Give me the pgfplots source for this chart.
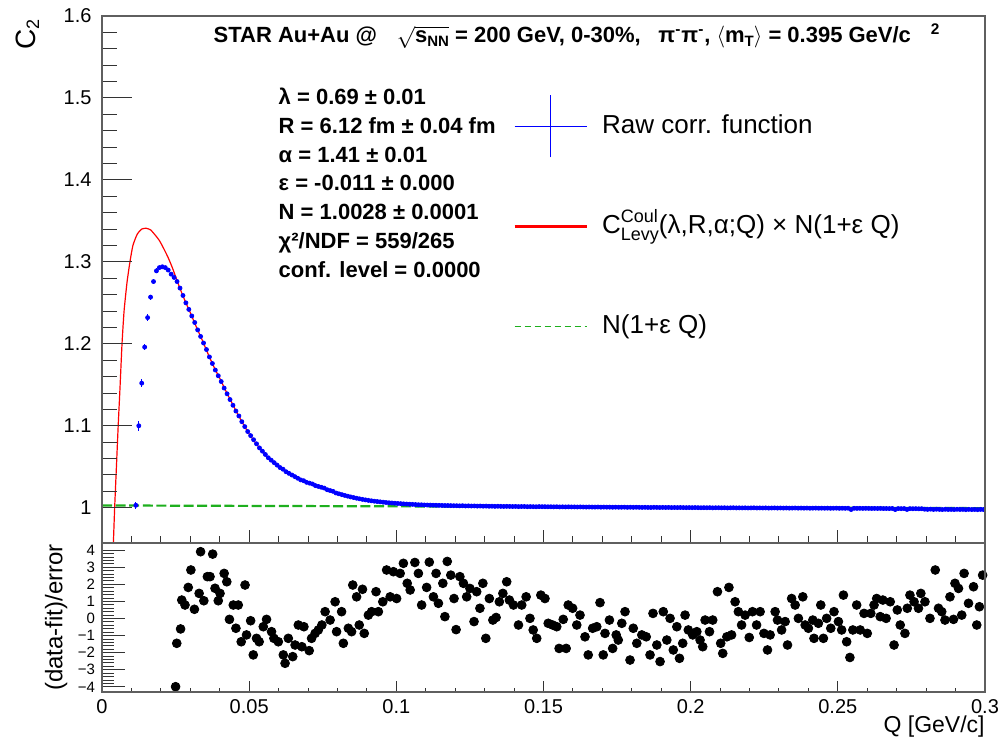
\documentclass[border=0pt]{standalone}
\usepackage{fontspec}
\setmainfont{Liberation Sans}
\usepackage{pgfplots}
\pgfplotsset{compat=1.18}
\definecolor{rootblue}{RGB}{0,0,255}
\definecolor{rootred}{RGB}{255,0,0}
\definecolor{rootgreen}{RGB}{30,175,30}
\definecolor{framegray}{RGB}{95,95,95}

\pgfplotsset{
  panel/.style={scale only axis, width=441.5pt, anchor=south west, xmin=0, xmax=0.3,
    axis line style={framegray, line width=0.7pt}, tick align=inside,
    every tick/.style={black!80, line width=0.5pt},
    xtick pos=left, ytick pos=left,
    /pgf/number format/assume math mode=true},
  toppanel/.style={panel, at={(51pt,97.5pt)}, height=263.5pt, ymin=0.957, ymax=1.6},
  botpanel/.style={panel, at={(51pt,23pt)}, height=74.5pt, ymin=-4.3, ymax=4.42},
  qticks/.style={xtick={0,0.05,0.1,0.15,0.2,0.25,0.3}, minor x tick num=4},
}
\newcommand{\lowsub}[1]{\raisebox{-2pt}{\fontsize{7.5}{7.5}\selectfont #1}}

\begin{document}
\begin{tikzpicture}
\useasboundingbox (0,0) rectangle (499pt,369pt);

% ---- top panel: correlation function, fit, baseline
\begin{axis}[toppanel, qticks, xticklabels={}, ytick=\empty,
  major tick length=6.7pt, minor tick length=3.3pt,
  legend cell align=left,
  legend style={at={(0.465,0.8197)}, anchor=north west, draw=none, fill=none,
    font=\fontsize{13}{15}\selectfont, row sep=35pt, inner sep=0pt,
    nodes={inner sep=1pt, text height=10pt, text depth=3pt},
    /tikz/every odd column/.append style={column sep=6pt}}]

% N(1+eps Q)
\addplot[rootgreen, line width=1.1pt, dash pattern=on 5pt off 1.8pt, forget plot]
  coordinates {(0,1.0028) (0.3,0.9995)};

% Levy fit with Coulomb
\addplot[rootred, line width=0.6pt, smooth, tension=0.35, forget plot] coordinates {
 (0.0038,0.950) (0.0043,1.000) (0.0049,1.050) (0.0055,1.100) (0.0061,1.145)
 (0.0068,1.200) (0.0075,1.240) (0.0085,1.275) (0.0095,1.300) (0.0105,1.320)
 (0.0120,1.334) (0.0135,1.340) (0.0150,1.341) (0.0165,1.339) (0.0180,1.333)
 (0.0195,1.326) (0.0210,1.316) (0.0225,1.305) (0.0240,1.292) (0.0255,1.277)
 (0.0270,1.263) (0.0285,1.250) (0.0300,1.238) (0.0320,1.221) (0.0340,1.205)
 (0.0360,1.188) (0.0380,1.172) (0.0400,1.158) (0.0420,1.143) (0.0440,1.129)
 (0.0460,1.115) (0.0480,1.102) (0.0500,1.090) (0.0520,1.080) (0.0540,1.071)
 (0.0560,1.063) (0.0580,1.057) (0.0600,1.051) (0.0620,1.046) (0.0650,1.040)
 (0.0680,1.034) (0.0710,1.030) (0.0740,1.026) (0.0770,1.022) (0.0800,1.017)
 (0.0840,1.013) (0.0880,1.010) (0.0920,1.008) (0.0960,1.0062) (0.1000,1.0051)
 (0.1050,1.0040) (0.1100,1.0032) (0.1200,1.0024) (0.1400,1.0015) (0.1600,1.0010)
 (0.1800,1.0005) (0.2000,1.0001) (0.2200,0.9998) (0.2400,0.9995) (0.2600,0.9992)
 (0.2750,0.9988) (0.2850,0.9981) (0.3000,0.9977)};

% raw correlation function, low Q with visible errors
\addplot[rootblue, only marks, mark=*, mark size=1pt, forget plot,
  error bars/.cd, y dir=both, y explicit, error mark=none,
  error bar style={rootblue, line width=0.4pt}] coordinates {
 (0.0115,1.003) +- (0,0.004) (0.0125,1.100) +- (0,0.006) (0.0135,1.152) +- (0,0.005)
 (0.0145,1.196) +- (0,0.004) (0.0155,1.232) +- (0,0.004) (0.0165,1.257) +- (0,0.003)
 (0.0175,1.276) +- (0,0.003) (0.0185,1.289) +- (0,0.003) (0.0195,1.293) +- (0,0.002)
 (0.0205,1.294) +- (0,0.002) (0.0215,1.293) +- (0,0.002) (0.0225,1.290) +- (0,0.002)
 (0.0235,1.285) +- (0,0.002) (0.0245,1.281) +- (0,0.002)};

\addplot[rootblue, only marks, mark=*, mark size=1pt, forget plot] coordinates {
 (0.0255,1.276) (0.0265,1.268) (0.0275,1.259) (0.0285,1.250) (0.0295,1.242)
 (0.0305,1.234) (0.0315,1.226) (0.0325,1.217) (0.0335,1.209) (0.0345,1.201)
 (0.0355,1.193) (0.0365,1.184) (0.0375,1.176) (0.0385,1.168) (0.0395,1.161)
 (0.0405,1.154) (0.0415,1.146) (0.0425,1.139) (0.0435,1.132) (0.0445,1.125)
 (0.0455,1.118) (0.0465,1.112) (0.0475,1.105) (0.0485,1.099) (0.0495,1.093)
 (0.0505,1.088) (0.0515,1.083) (0.0525,1.078) (0.0535,1.073) (0.0545,1.069)
 (0.0555,1.065) (0.0565,1.061) (0.0575,1.058) (0.0585,1.055) (0.0595,1.052)
 (0.0605,1.049) (0.0615,1.047) (0.0625,1.044) (0.0635,1.042) (0.0645,1.040)
 (0.0655,1.038) (0.0665,1.036) (0.0675,1.034) (0.0685,1.033) (0.0695,1.031)
 (0.0705,1.030) (0.0715,1.029) (0.0725,1.027) (0.0735,1.026) (0.0745,1.025)
 (0.0755,1.024) (0.0765,1.022) (0.0775,1.021) (0.0785,1.020) (0.0795,1.018)
 (0.0805,1.0170) (0.0815,1.0160) (0.0825,1.0150) (0.0835,1.0141) (0.0845,1.0132)
 (0.0855,1.0124) (0.0865,1.0116) (0.0875,1.0109) (0.0885,1.0102) (0.0895,1.0096)
 (0.0905,1.0090) (0.0915,1.0085) (0.0925,1.0080) (0.0935,1.0076) (0.0945,1.0072)
 (0.0955,1.0068) (0.0965,1.0064) (0.0975,1.0061) (0.0985,1.0058) (0.0995,1.0055)
 (0.1005,1.0052) (0.1015,1.0050) (0.1025,1.0047) (0.1035,1.0045) (0.1045,1.0043)
 (0.1055,1.0041) (0.1065,1.0039) (0.1075,1.0037) (0.1085,1.0036) (0.1095,1.0034)
 (0.1105,1.0033) (0.1115,1.0032) (0.1125,1.0031) (0.1135,1.0030) (0.1145,1.0029)
 (0.1155,1.0028) (0.1165,1.0027) (0.1175,1.0027) (0.1185,1.0026) (0.1195,1.0025)
 (0.1205,1.0025) (0.1215,1.0023) (0.1225,1.0025) (0.1235,1.0022) (0.1245,1.0023)
 (0.1255,1.0021) (0.1265,1.0022) (0.1275,1.0020) (0.1285,1.0021) (0.1295,1.0019)
 (0.1305,1.0020) (0.1315,1.0018) (0.1325,1.0019) (0.1335,1.0017) (0.1345,1.0018)
 (0.1355,1.0017) (0.1365,1.0016) (0.1375,1.0017) (0.1385,1.0016) (0.1395,1.0015)
 (0.1405,1.0016) (0.1415,1.0014) (0.1425,1.0015) (0.1435,1.0015) (0.1445,1.0013)
 (0.1455,1.0014) (0.1465,1.0013) (0.1475,1.0012) (0.1485,1.0014) (0.1495,1.0013)
 (0.1505,1.0013) (0.1515,1.0012) (0.1525,1.0012) (0.1535,1.0011) (0.1545,1.0012)
 (0.1555,1.0010) (0.1565,1.0011) (0.1575,1.0010) (0.1585,1.0011) (0.1595,1.0010)
 (0.1605,1.0010) (0.1615,1.0009) (0.1625,1.0010) (0.1635,1.0009) (0.1645,1.0008)
 (0.1655,1.0009) (0.1665,1.0008) (0.1675,1.0008) (0.1685,1.0009) (0.1695,1.0007)
 (0.1705,1.0008) (0.1715,1.0007) (0.1725,1.0007) (0.1735,1.0006) (0.1745,1.0007)
 (0.1755,1.0006) (0.1765,1.0006) (0.1775,1.0007) (0.1785,1.0005) (0.1795,1.0006)
 (0.1805,1.0005) (0.1815,1.0006) (0.1825,1.0005) (0.1835,1.0004) (0.1845,1.0005)
 (0.1855,1.0004) (0.1865,1.0003) (0.1875,1.0005) (0.1885,1.0004) (0.1895,1.0003)
 (0.1905,1.0004) (0.1915,1.0003) (0.1925,1.0004) (0.1935,1.0002) (0.1945,1.0003)
 (0.1955,1.0002) (0.1965,1.0003) (0.1975,1.0002) (0.1985,1.0001) (0.1995,1.0002)
 (0.2005,1.0001) (0.2015,1.0002) (0.2025,1.0001) (0.2035,1.0000) (0.2045,1.0001)
 (0.2055,1.0000) (0.2065,1.0001) (0.2075,0.9999) (0.2085,1.0000) (0.2095,1.0000)
 (0.2105,0.9999) (0.2115,1.0000) (0.2125,0.9998) (0.2135,0.9999) (0.2145,1.0000)
 (0.2155,0.9998) (0.2165,0.9999) (0.2175,0.9998) (0.2185,0.9999) (0.2195,0.9997)
 (0.2205,0.9998) (0.2215,0.9999) (0.2225,0.9997) (0.2235,0.9998) (0.2245,0.9997)
 (0.2255,0.9998) (0.2265,0.9996) (0.2275,0.9997) (0.2285,0.9998) (0.2295,0.9996)
 (0.2305,0.9997) (0.2315,0.9996) (0.2325,0.9997) (0.2335,0.9995) (0.2345,0.9996)
 (0.2355,0.9997) (0.2365,0.9995) (0.2375,0.9996) (0.2385,0.9995) (0.2395,0.9996)
 (0.2405,0.9994) (0.2415,0.9995) (0.2425,0.9996) (0.2435,0.9994) (0.2445,0.9995)
 (0.2455,0.9994) (0.2465,0.9995) (0.2475,0.9993) (0.2485,0.9994) (0.2495,0.9995)
 (0.2505,0.9993) (0.2515,0.9994) (0.2525,0.9993) (0.2535,0.9994) (0.2545,0.9978)
 (0.2555,0.9993) (0.2565,0.9992) (0.2575,0.9993) (0.2585,0.9992) (0.2595,0.9993)
 (0.2605,0.9992) (0.2615,0.9991) (0.2625,0.9992) (0.2635,0.9991) (0.2645,0.9992)
 (0.2655,0.9990) (0.2665,0.9991) (0.2675,0.9990) (0.2685,0.9991) (0.2695,0.9978)
 (0.2705,0.9990) (0.2715,0.9989) (0.2725,0.9990) (0.2735,0.9979) (0.2745,0.9989)
 (0.2755,0.9988) (0.2765,0.9989) (0.2775,0.9987) (0.2785,0.9988) (0.2795,0.9982)
 (0.2805,0.9980) (0.2815,0.9983) (0.2825,0.9979) (0.2835,0.9982) (0.2845,0.9980)
 (0.2855,0.9978) (0.2865,0.9981) (0.2875,0.9979) (0.2885,0.9980) (0.2895,0.9978)
 (0.2905,0.9981) (0.2915,0.9979) (0.2925,0.9980) (0.2935,0.9977) (0.2945,0.9980)
 (0.2955,0.9978) (0.2965,0.9979) (0.2975,0.9977) (0.2985,0.9980) (0.2995,0.9978)};

\addlegendimage{legend image code/.code={
  \draw[rootblue, line width=0.5pt] (0pt,0pt) -- (36pt,0pt);
  \draw[rootblue, line width=0.5pt, overlay] (18pt,-15.5pt) -- (18pt,15.5pt);}}
\addlegendentry{Raw corr. function}
\addlegendimage{legend image code/.code={
  \draw[rootred, line width=1.6pt] (0pt,0pt) -- (36pt,0pt);}}
\addlegendentry{C\rlap{\raisebox{5.5pt}{\fontsize{9}{9}\selectfont Coul}}\raisebox{-3.5pt}{\fontsize{9}{9}\selectfont Levy}(λ,R,α;Q) × N(1+ε Q)}
\addlegendimage{legend image code/.code={
  \draw[rootgreen, line width=0.7pt, dash pattern=on 3pt off 2pt] (0pt,0pt) -- (36pt,0pt);}}
\addlegendentry{N(1+ε Q)}
\end{axis}

% ---- top panel: y ticks, labels and fit text
\begin{axis}[toppanel, xtick=\empty, clip=false,
  ytick={1,1.1,1.2,1.3,1.4,1.5,1.6}, yticklabels={1,1.1,1.2,1.3,1.4,1.5,1.6},
  minor y tick num=4, major tick length=15pt, minor tick length=7.5pt,
  yticklabel style={font=\fontsize{10}{12}\selectfont, xshift=-1.7pt}]
\node[rotate=90, anchor=east, inner sep=0pt, font=\fontsize{14}{14}\selectfont]
  at (rel axis cs:-0.0846,0.995) {C\lowsub{\fontsize{9}{9}\selectfont 2}};
\node[anchor=base west, inner sep=0pt, font=\bfseries\fontsize{11}{13}\selectfont]
  at (rel axis cs:0.126,0.949)
  {STAR Au+Au @\hspace{0.9em}$\sqrt{\mbox{s\lowsub{NN}}}$ = 200 GeV, 0-30\%,\hspace{0.8em}π\textsuperscript{-}π\textsuperscript{-}, $\langle$m\lowsub{T}$\rangle$ = 0.395 GeV/c\hspace{0.9em}\textsuperscript{2}};
\begin{scope}[every node/.style={anchor=base west, inner sep=0pt, font=\bfseries\fontsize{11}{13}\selectfont}]
\node at (rel axis cs:0.1997,0.8324) {λ = 0.69 ± 0.01};
\node at (rel axis cs:0.1997,0.7777) {R = 6.12 fm ± 0.04 fm};
\node at (rel axis cs:0.1997,0.7229) {α = 1.41 ± 0.01};
\node at (rel axis cs:0.1997,0.6682) {ε = -0.011 ± 0.000};
\node at (rel axis cs:0.1997,0.6134) {N = 1.0028 ± 0.0001};
\node at (rel axis cs:0.1997,0.5587) {χ²/NDF = 559/265};
\node at (rel axis cs:0.1997,0.5040) {conf. level = 0.0000};
\end{scope}
\end{axis}

% ---- bottom panel: residuals
\begin{axis}[botpanel, qticks, ytick=\empty,
  xticklabels={0,0.05,0.1,0.15,0.2,0.25,0.3},
  xticklabel style={font=\fontsize{10}{12}\selectfont},
  major tick length=5.5pt, minor tick length=2.2pt]
\addplot[only marks, mark=*, mark size=2.2pt, black] table {
0.0250 -3.99
0.0254 -1.45
0.0267 -0.61
0.0271 1.08
0.0282 0.79
0.0293 1.82
0.0302 2.84
0.0314 0.54
0.0330 1.47
0.0335 3.91
0.0346 1.04
0.0358 2.45
0.0367 2.45
0.0376 3.77
0.0384 1.77
0.0395 1.04
0.0401 1.47
0.0415 2.64
0.0424 2.15
0.0433 -0.05
0.0446 0.79
0.0455 -0.57
0.0463 0.79
0.0473 -1.36
0.0486 1.96
0.0491 -0.96
0.0505 -0.13
0.0514 -2.13
0.0525 -1.16
0.0534 -1.36
0.0548 -0.48
0.0559 -0.05
0.0576 -0.77
0.0584 -1.16
0.0599 -1.36
0.0616 -2.13
0.0622 -2.62
0.0633 -1.16
0.0648 -2.23
0.0656 -1.55
0.0667 -0.38
0.0679 -1.65
0.0686 -0.48
0.0704 -1.88
0.0712 -1.16
0.0724 -0.87
0.0735 -0.67
0.0747 -0.38
0.0758 0.40
0.0775 -0.09
0.0792 0.98
0.0797 -0.77
0.0814 0.40
0.0820 -1.45
0.0837 -0.57
0.0848 -0.77
0.0852 1.96
0.0865 1.27
0.0874 -0.38
0.0885 1.71
0.0891 -0.87
0.0905 0.20
0.0916 0.40
0.0931 1.57
0.0939 0.40
0.0954 0.98
0.0967 2.84
0.0979 1.27
0.0990 2.74
0.1001 1.17
0.1013 2.64
0.1024 3.23
0.1037 2.06
0.1047 1.67
0.1063 3.28
0.1075 2.64
0.1086 0.79
0.1103 1.82
0.1112 3.30
0.1126 1.27
0.1135 2.64
0.1143 0.89
0.1158 2.06
0.1165 0.11
0.1173 3.34
0.1185 2.54
0.1196 1.17
0.1203 -0.65
0.1216 2.45
0.1228 2.06
0.1239 1.27
0.1250 1.76
0.1264 -0.18
0.1273 1.57
0.1284 0.60
0.1294 2.06
0.1304 -1.16
0.1316 1.17
0.1328 -0.09
0.1339 0.06
0.1350 0.98
0.1362 1.47
0.1375 2.15
0.1384 1.08
0.1398 0.79
0.1415 -0.38
0.1426 0.79
0.1441 1.27
0.1454 0.01
0.1465 -0.67
0.1477 -1.16
0.1491 1.37
0.1505 1.17
0.1516 -0.28
0.1531 -0.38
0.1545 -0.48
0.1553 -1.75
0.1567 -0.05
0.1577 -1.75
0.1584 0.79
0.1599 0.60
0.1613 -0.38
0.1624 0.20
0.1641 -1.07
0.1652 -2.13
0.1667 -0.57
0.1681 -0.48
0.1692 0.93
0.1703 -2.13
0.1709 -0.87
0.1724 -0.09
0.1735 -1.75
0.1747 -0.96
0.1754 -1.26
0.1766 -0.28
0.1777 0.40
0.1794 -2.43
0.1805 -0.57
0.1817 -1.45
0.1834 -0.96
0.1849 -1.07
0.1862 -2.13
0.1872 0.30
0.1885 -1.55
0.1896 -2.52
0.1907 0.40
0.1919 -1.26
0.1930 0.01
0.1941 -1.84
0.1953 -0.48
0.1962 -2.33
0.1973 -1.45
0.1981 0.20
0.1992 -0.67
0.2007 -0.96
0.2021 -0.77
0.2032 -1.26
0.2041 -1.65
0.2049 -0.09
0.2064 -0.77
0.2075 -0.09
0.2091 1.57
0.2102 -1.45
0.2109 -2.04
0.2123 -1.07
0.2130 1.82
0.2139 -0.96
0.2151 0.98
0.2162 0.40
0.2173 -0.38
0.2185 0.20
0.2199 -1.11
0.2210 0.40
0.2224 -0.38
0.2236 0.40
0.2249 -0.87
0.2261 -1.84
0.2270 -0.96
0.2287 0.40
0.2295 -0.09
0.2309 -0.67
0.2321 -0.18
0.2329 -1.55
0.2343 1.17
0.2355 0.79
0.2366 0.01
0.2381 1.27
0.2389 -0.38
0.2400 -0.57
0.2415 -0.09
0.2419 -1.16
0.2434 -0.28
0.2442 0.79
0.2451 -1.16
0.2462 0.01
0.2476 -0.57
0.2487 0.40
0.2502 -0.18
0.2513 -0.67
0.2519 1.37
0.2530 -1.36
0.2541 -2.28
0.2551 -0.67
0.2564 0.79
0.2576 -0.67
0.2589 0.30
0.2600 -0.87
0.2612 0.30
0.2623 0.79
0.2632 1.17
0.2644 0.11
0.2653 1.08
0.2664 0.01
0.2678 0.98
0.2691 -1.55
0.2702 0.50
0.2712 -0.38
0.2728 -0.87
0.2736 0.60
0.2745 1.37
0.2759 0.98
0.2774 0.60
0.2782 1.47
0.2796 0.98
0.2813 0.01
0.2831 2.84
0.2842 0.60
0.2853 0.40
0.2864 -0.09
0.2881 1.27
0.2893 -0.05
0.2898 2.06
0.2910 1.76
0.2921 0.20
0.2929 2.64
0.2944 0.89
0.2961 1.86
0.2972 -0.38
0.2981 0.69
0.2992 2.54
};
\end{axis}

% ---- bottom panel: y ticks and axis titles
\begin{axis}[botpanel, xtick=\empty, clip=false,
  ytick={-4,-3,-2,-1,0,1,2,3,4}, yticklabels={−4,−3,−2,−1,0,1,2,3,4},
  minor y tick num=4, major tick length=11.7pt, minor tick length=6pt,
  yticklabel style={font=\fontsize{7.5}{9}\selectfont}]
\node[rotate=90, anchor=center, inner sep=0pt, font=\fontsize{12}{12}\selectfont]
  at (rel axis cs:-0.0518,0.5) {(data-fit)/error};
\node[anchor=east, inner sep=0pt, font=\fontsize{11.5}{11.5}\selectfont]
  at (rel axis cs:1.0,-0.23) {Q [GeV/c]};
\end{axis}
\end{tikzpicture}
\end{document}
